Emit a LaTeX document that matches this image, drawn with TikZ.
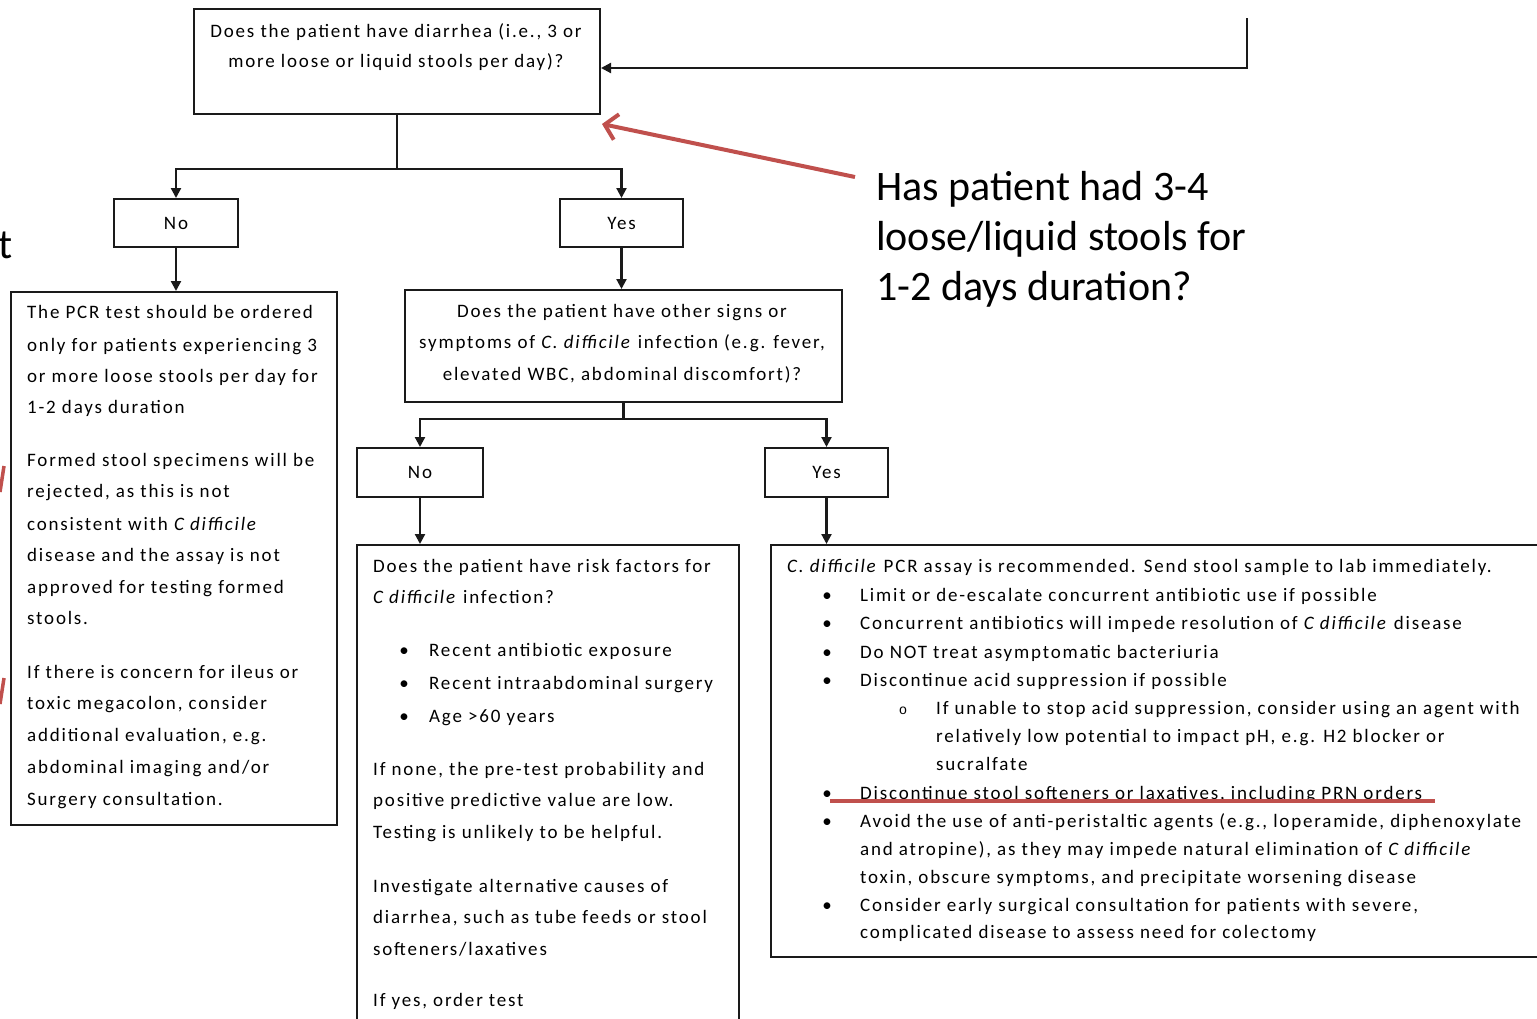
\documentclass[tikz,border=0pt]{standalone}
\usepackage{fontspec}
\setmainfont{Carlito}
\newfontfamily\bxfont[LetterSpace=9.5]{Carlito}
\newfontfamily\subfont{Liberation Mono}
\usetikzlibrary{arrows.meta,calc}
\definecolor{annred}{HTML}{C0504D}
\definecolor{ink}{HTML}{1A1A1A}
\tikzset{
  box/.style={draw=ink, line width=2pt, inner sep=0pt, anchor=north west},
  conn/.style={draw=ink, line width=2.2pt, -{Triangle[width=10pt,length=10pt]}},
  tl/.style={inner sep=0pt, anchor=base west, font=\bxfont\fontsize{19}{23}\selectfont},
  tc/.style={tl, anchor=base},
  bul/.style={inner sep=0pt, anchor=base, font=\bxfont\fontsize{19}{23}\selectfont},
  subbul/.style={inner sep=0pt, anchor=base, font=\subfont\fontsize{14}{16}\selectfont},
  ann/.style={inner sep=0pt, anchor=base west, font=\fontsize{42}{50}\selectfont},
  redline/.style={draw=annred, line width=3.5pt},
  redarrow/.style={draw=annred, line width=4pt, -{Straight Barb[length=12pt,width=26pt]}},
}
\begin{document}
\begin{tikzpicture}[x=1pt,y=-1pt]
\useasboundingbox (0,0) rectangle (1537,1018);
\clip (0,0) rectangle (1537,1018);
\fill[white] (0,0) rectangle (1537,1018);

% ---- boxes ----
\node[box, minimum width=406pt, minimum height=105pt] (q1) at (193,8) {};
\node[box, minimum width=124pt, minimum height=48pt] (no1) at (113,198) {};
\node[box, minimum width=123pt, minimum height=48pt] (yes1) at (559,198) {};
\node[box, minimum width=326pt, minimum height=533pt] (lb) at (10,291) {};
\node[box, minimum width=437pt, minimum height=112pt] (q2) at (404,289) {};
\node[box, minimum width=126pt, minimum height=49pt] (no2) at (356,447) {};
\node[box, minimum width=123pt, minimum height=49pt] (yes2) at (764,447) {};
\node[box, minimum width=382pt, minimum height=520pt] (rb) at (356,544) {};
\node[box, minimum width=800pt, minimum height=412pt] (act) at (770,544) {};

% ---- connectors ----
\draw[conn] (q1.south) -- ++(0,54) -| (no1.north);
\draw[conn] (q1.south) -- ++(0,54) -| (yes1.north);
\draw[conn] (no1.south) -- (no1.south |- lb.north);
\draw[conn] (yes1.south) -- (yes1.south |- q2.north);
\draw[conn] (q2.south) -- ++(0,16) -| (no2.north);
\draw[conn] (q2.south) -- ++(0,16) -| (yes2.north);
\draw[conn] (no2.south) -- (no2.south |- rb.north);
\draw[conn] (yes2.south) -- (yes2.south |- act.north);
\coordinate (loopTop) at (1247,18);
\draw[conn] (loopTop) |- ($(q1.east)+(0,6.5)$);

% ---- labels ----
\node[tc] (no1t) at (no1.center) [yshift=-6pt] {No};
\node[tc] (yes1t) at (yes1.center) [yshift=-6pt] {Yes};
\node[tc] (no2t) at (no2.center) [yshift=-6pt] {No};
\node[tc] (yes2t) at (yes2.center) [yshift=-6pt] {Yes};

% top question
\node[tc] (q1a) at (396,37) {Does the patient have diarrhea (i.e., 3 or};
\node[tc] (q1b) at (396,67) {more loose or liquid stools per day)?};

% second question
\node[tc] (q2a) at (622,317) {Does the patient have other signs or};
\node[tc] (q2b) at (622,348) {symptoms of \textit{C. difficile} infection (e.g. fever,};
\node[tc] (q2c) at (622,380) {elevated WBC, abdominal discomfort)?};

% left box
\node[tl] (l1) at (27,318) {The PCR test should be ordered};
\node[tl] (l2) at (27,351) {only for patients experiencing 3};
\node[tl] (l3) at (27,382) {or more loose stools per day for};
\node[tl] (l4) at (27,413) {1-2 days duration};
\node[tl] (l5) at (27,466) {Formed stool specimens will be};
\node[tl] (l6) at (27,497) {rejected, as this is not};
\node[tl] (l7) at (27,530) {consistent with \textit{C difficile}};
\node[tl] (l8) at (27,561) {disease and the assay is not};
\node[tl] (l9) at (27,593) {approved for testing formed};
\node[tl] (l10) at (27,624) {stools.};
\node[tl] (l11) at (27,678) {If there is concern for ileus or};
\node[tl] (l12) at (27,709) {toxic megacolon, consider};
\node[tl] (l13) at (27,741) {additional evaluation, e.g.};
\node[tl] (l14) at (27,773) {abdominal imaging and/or};
\node[tl] (l15) at (27,805) {Surgery consultation.};

% risk box
\node[tl] (r1) at (373,572) {Does the patient have risk factors for};
\node[tl] (r2) at (373,603) {\textit{C difficile} infection?};
\node[bul] (rb1) at (404,656) {•};
\node[tl] (r3) at (429,656) {Recent antibiotic exposure};
\node[bul] (rb2) at (404,689) {•};
\node[tl] (r4) at (429,689) {Recent intraabdominal surgery};
\node[bul] (rb3) at (404,722) {•};
\node[tl] (r5) at (429,722) {Age >60 years};
\node[tl] (r6) at (373,775) {If none, the pre-test probability and};
\node[tl] (r7) at (373,806) {positive predictive value are low.};
\node[tl] (r8) at (373,838) {Testing is unlikely to be helpful.};
\node[tl] (r9) at (373,892) {Investigate alternative causes of};
\node[tl] (r10) at (373,923) {diarrhea, such as tube feeds or stool};
\node[tl] (r11) at (373,955) {softeners/laxatives};
\node[tl] (r12) at (373,1006) {If yes, order test};

% action box
\node[tl] (a1) at (787,572) {\textit{C. difficile} PCR assay is recommended. Send stool sample to lab immediately.};
\node[bul] (ab1) at (827,601) {•};
\node[tl] (a2) at (860,601) {Limit or de-escalate concurrent antibiotic use if possible};
\node[bul] (ab2) at (827,629) {•};
\node[tl] (a3) at (860,629) {Concurrent antibiotics will impede resolution of \textit{C difficile} disease};
\node[bul] (ab3) at (827,658) {•};
\node[tl] (a4) at (860,658) {Do NOT treat asymptomatic bacteriuria};
\node[bul] (ab4) at (827,686) {•};
\node[tl] (a5) at (860,686) {Discontinue acid suppression if possible};
\node[subbul] (as1) at (903,714) {o};
\node[tl] (a6) at (936,714) {If unable to stop acid suppression, consider using an agent with};
\node[tl] (a7) at (936,742) {relatively low potential to impact pH, e.g. H2 blocker or};
\node[tl] (a8) at (936,770) {sucralfate};
\node[bul] (ab5) at (827,799) {•};
\node[tl] (a9) at (860,799) {Discontinue stool softeners or laxatives, including PRN orders};
\node[bul] (ab6) at (827,827) {•};
\node[tl] (a10) at (860,827) {Avoid the use of anti-peristaltic agents (e.g., loperamide, diphenoxylate};
\node[tl] (a11) at (860,855) {and atropine), as they may impede natural elimination of \textit{C difficile}};
\node[tl] (a12) at (860,883) {toxin, obscure symptoms, and precipitate worsening disease};
\node[bul] (ab7) at (827,911) {•};
\node[tl] (a13) at (860,911) {Consider early surgical consultation for patients with severe,};
\node[tl] (a14) at (860,938) {complicated disease to assess need for colectomy};

% ---- annotations ----
\node[ann] (ann1) at (876,200) {Has patient had 3-4};
\node[ann] (ann2) at (876,250) {loose/liquid stools for};
\node[ann] (ann3) at (876,300) {1-2 days duration?};
\coordinate (annStart) at (855,177);
\coordinate (annTip) at (602,124);
\draw[redarrow] (annStart) -- (annTip);
\draw[redline] (830,801) -- (1435,801);

% fragments at the left edge
\node[ann, anchor=base east] (tfrag) at (13,258) {t};
\draw[redline] (0,492) -- (4,466);
\draw[redline] (0,704) -- (4,678);
\end{tikzpicture}
\end{document}
